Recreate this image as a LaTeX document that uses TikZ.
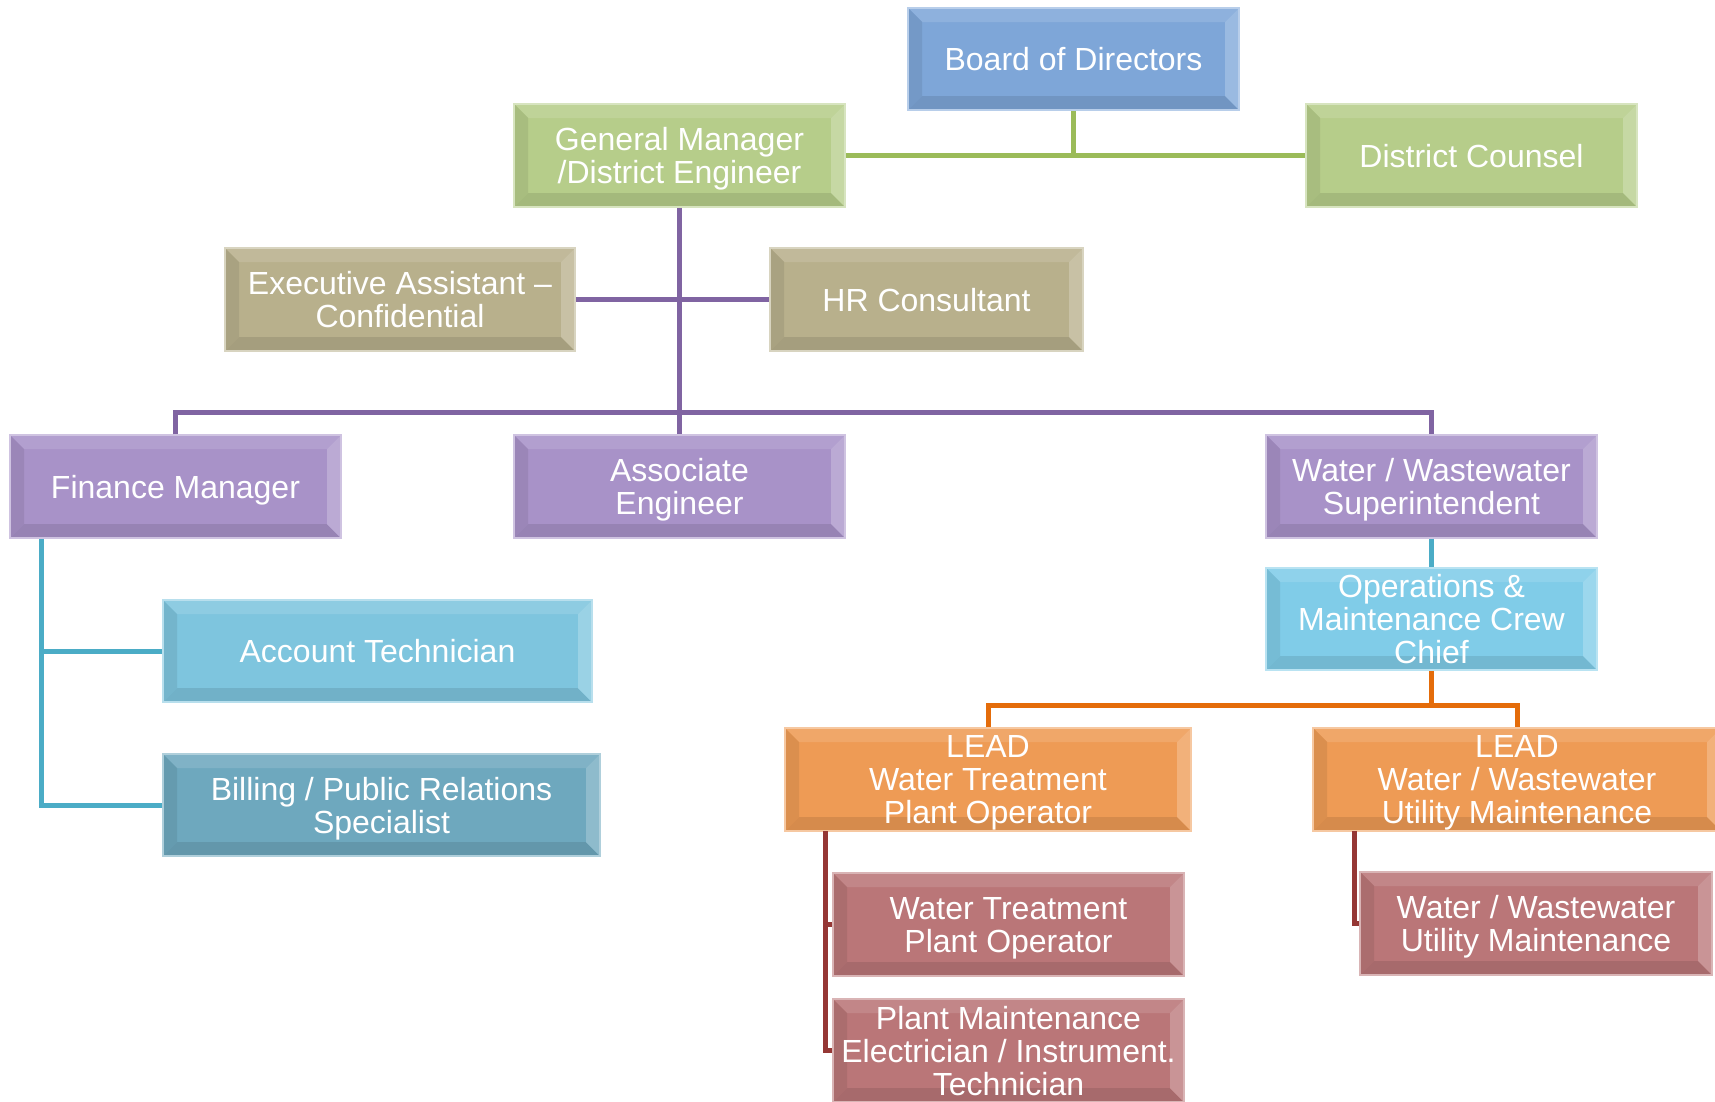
\documentclass[tikz,border=0pt]{standalone}
\usepackage{fontspec}
\setmainfont{Liberation Sans}
\newcommand\bxfont{\fontsize{32}{33}\selectfont}
\newcommand\bvw{14pt}
\definecolor{cblue}{HTML}{7EA6D8}
\definecolor{cgreen}{HTML}{B6CD8A}
\definecolor{ctan}{HTML}{B8B08C}
\definecolor{cpurp}{HTML}{A892C8}
\definecolor{caqua}{HTML}{7EC5DE}
\definecolor{caqua2}{HTML}{80CCE8}
\definecolor{cteal}{HTML}{6EA8BE}
\definecolor{corange}{HTML}{EE9B55}
\definecolor{cred}{HTML}{BA7678}
\definecolor{lgreen}{HTML}{9BBB59}
\definecolor{lpurp}{HTML}{8064A2}
\definecolor{laqua}{HTML}{4BACC6}
\definecolor{lorange}{HTML}{E46C0A}
\definecolor{lred}{HTML}{953735}
\tikzset{
  bevel/.style={rectangle, inner sep=0pt, text=white, align=center, font=\bxfont,
    text depth=0pt,
    fill=#1, draw=#1!55!white, line width=1.5pt,
    path picture={
      \coordinate (bnw) at (path picture bounding box.north west);
      \coordinate (bne) at (path picture bounding box.north east);
      \coordinate (bsw) at (path picture bounding box.south west);
      \coordinate (bse) at (path picture bounding box.south east);
      \fill[#1!88!white] (bnw) -- (bne) -- ([shift={(-\bvw,-\bvw)}]bne) -- ([shift={(\bvw,-\bvw)}]bnw) -- cycle;
      \fill[#1!92!black] (bnw) -- (bsw) -- ([shift={(\bvw,\bvw)}]bsw) -- ([shift={(\bvw,-\bvw)}]bnw) -- cycle;
      \fill[#1!90!black] (bsw) -- (bse) -- ([shift={(-\bvw,\bvw)}]bse) -- ([shift={(\bvw,\bvw)}]bsw) -- cycle;
      \fill[#1!78!white] (bne) -- (bse) -- ([shift={(-\bvw,\bvw)}]bse) -- ([shift={(-\bvw,-\bvw)}]bne) -- cycle;
    }},
  sz/.style 2 args={minimum width=#1pt, minimum height=#2pt},
  conn/.style={line width=5pt, draw=#1},
}
\begin{document}
\begin{tikzpicture}[x=1pt,y=-1pt]
\useasboundingbox[fill=white] (0,0) rectangle (1715,1101);
% connector junctions
\coordinate (pbus) at (679.5,412);
\coordinate (ft) at (41,539);
\coordinate (obus) at (1431.5,705);
\coordinate (r1) at (825,831);
\coordinate (r2) at (1354,831);
% nodes
\node[bevel=cblue, sz={331}{102}] (board) at (1073.5,59) {Board of Directors};
\node[bevel=cgreen, sz={331}{103}] (gm) at (679.5,155.5) {General Manager\\/District Engineer};
\node[bevel=cgreen, sz={331}{103}] (dc) at (1471.5,155.5) {District Counsel};
\node[bevel=ctan, sz={350}{103}] (ea) at (400,299.5) {Executive Assistant --\\Confidential};
\node[bevel=ctan, sz={313}{103}] (hr) at (926.5,299.5) {HR Consultant};
\node[bevel=cpurp, sz={331}{103}] (fm) at (175.5,486.5) {Finance Manager};
\node[bevel=cpurp, sz={331}{103}] (ae) at (679.5,486.5) {Associate\\Engineer};
\node[bevel=cpurp, sz={331}{103}] (sup) at (1431.5,486.5) {Water / Wastewater\\Superintendent};
\node[bevel=caqua2, sz={331}{102}] (ops) at (1431.5,619) {Operations \&\\Maintenance Crew\\Chief};
\node[bevel=caqua, sz={429}{102}] (at) at (377.5,651) {Account Technician};
\node[bevel=cteal, sz={437}{102}] (bill) at (381.5,805) {Billing / Public Relations\\Specialist};
\node[bevel=corange, sz={406}{103}] (lwtp) at (988,779.5) {LEAD\\Water Treatment\\Plant Operator};
\node[bevel=corange, sz={408}{103}] (lww) at (1517,779.5) {LEAD\\Water / Wastewater\\Utility Maintenance};
\node[bevel=cred, sz={351}{103}] (wtpo) at (1008.5,924.5) {Water Treatment\\Plant Operator};
\node[bevel=cred, sz={351}{103}] (pm) at (1008.5,1050.5) {Plant Maintenance\\Electrician / Instrument.\\Technician};
\node[bevel=cred, sz={352}{103}] (wwum) at (1536,923.5) {Water / Wastewater\\Utility Maintenance};
% green
\draw[conn=lgreen] (gm.east) -- (dc.west);
\draw[conn=lgreen] (board.south) -- (board.south |- gm.east);
% purple
\draw[conn=lpurp] (gm.south) -- (ae.north);
\draw[conn=lpurp] (ea.east) -- (hr.west);
\draw[conn=lpurp] (fm.north) |- (pbus) -| (sup.north);
% aqua
\draw[conn=laqua] (sup.south) -- (ops.north);
\draw[conn=laqua] (ft) |- (bill.west);
\draw[conn=laqua] (ft |- at.west) -- (at.west);
% orange
\draw[conn=lorange] (ops.south) -- (obus);
\draw[conn=lorange] (lwtp.north) |- (obus) -| (lww.north);
% red
\draw[conn=lred] (r1) |- (pm.west);
\draw[conn=lred] (r1 |- wtpo.west) -- (wtpo.west);
\draw[conn=lred] (r2) |- (wwum.west);
\end{tikzpicture}
\end{document}
